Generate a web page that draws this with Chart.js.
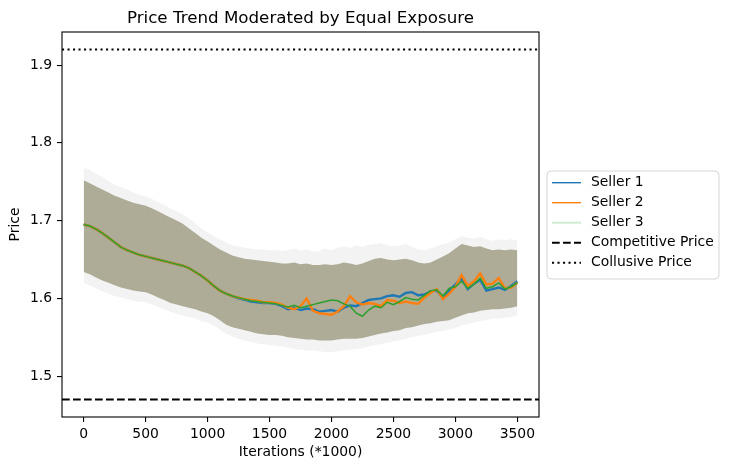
<!DOCTYPE html>
<html>
<head>
<meta charset="utf-8">
<script src="https://cdn.jsdelivr.net/npm/chart.js@4"></script>
<style>
  html, body { margin: 0; padding: 0; background: #fff; }
  #wrap { width: 729px; height: 470px; }
</style>
</head>
<body>
<div id="wrap"><canvas id="priceChart" width="729" height="470"></canvas></div>
<script>
// iterations (*1000), sampled every 50
const iterations = [0,50,100,150,200,250,300,350,400,450,500,550,600,650,700,750,800,850,900,950,
  1000,1050,1100,1150,1200,1250,1300,1350,1400,1450,1500,1550,1600,1650,1700,1750,1800,1850,1900,1950,
  2000,2050,2100,2150,2200,2250,2300,2350,2400,2450,2500,2550,2600,2650,2700,2750,2800,2850,2900,2950,
  3000,3050,3100,3150,3200,3250,3300,3350,3400,3450,3500];

// mean price per seller
const seller1 = [1.695,1.693,1.689,1.684,1.678,1.672,1.666,1.662,1.659,1.656,
  1.654,1.652,1.650,1.648,1.646,1.644,1.642,1.639,1.634,1.629,
  1.623,1.616,1.610,1.606,1.603,1.600,1.598,1.596,1.595,1.594,1.594,
  1.593,1.590,1.586,1.588,1.585,1.587,1.586,1.583,1.584,1.585,
  1.583,1.588,1.591,1.590,1.594,1.598,1.599,1.600,1.603,1.604,
  1.602,1.607,1.608,1.604,1.605,1.609,1.610,1.601,1.610,1.618,
  1.626,1.612,1.619,1.624,1.610,1.612,1.614,1.611,1.616,1.622];
const seller2 = [1.695,1.693,1.689,1.684,1.678,1.672,1.666,1.662,1.659,1.656,
  1.654,1.652,1.650,1.648,1.646,1.644,1.642,1.639,1.634,1.629,
  1.623,1.616,1.610,1.606,1.603,1.601,1.599,1.598,1.597,1.595,1.595,
  1.594,1.592,1.588,1.586,1.590,1.600,1.584,1.581,1.580,1.579,
  1.583,1.590,1.603,1.595,1.592,1.594,1.593,1.590,1.598,1.597,
  1.594,1.596,1.594,1.593,1.601,1.607,1.612,1.599,1.606,1.615,
  1.630,1.616,1.622,1.632,1.618,1.619,1.626,1.613,1.614,1.620];
const seller3 = [1.695,1.693,1.689,1.684,1.678,1.672,1.666,1.662,1.659,1.656,
  1.654,1.652,1.650,1.648,1.646,1.644,1.642,1.639,1.634,1.629,
  1.623,1.616,1.610,1.606,1.603,1.601,1.599,1.597,1.596,1.595,1.594,
  1.593,1.591,1.589,1.591,1.588,1.590,1.592,1.594,1.596,1.598,
  1.597,1.593,1.590,1.581,1.577,1.585,1.590,1.588,1.595,1.592,
  1.596,1.601,1.599,1.598,1.604,1.610,1.611,1.603,1.613,1.615,
  1.622,1.613,1.618,1.626,1.613,1.615,1.620,1.612,1.615,1.620];

// spread band (where all three std bands overlap)
const bandUpper = [1.752,1.748,1.744,1.740,1.736,1.732,1.729,1.726,1.723,1.721,
  1.719,1.716,1.712,1.708,1.704,1.700,1.696,1.690,1.684,1.678,
  1.673,1.668,1.663,1.659,1.655,1.653,1.651,1.650,1.649,1.648,1.647,
  1.646,1.645,1.645,1.646,1.644,1.645,1.643,1.643,1.644,1.643,
  1.644,1.646,1.645,1.643,1.645,1.648,1.651,1.652,1.650,1.649,
  1.650,1.651,1.649,1.646,1.645,1.646,1.650,1.654,1.658,1.664,
  1.670,1.668,1.666,1.667,1.664,1.662,1.663,1.662,1.663,1.662];
const bandLower = [1.634,1.631,1.627,1.623,1.620,1.617,1.614,1.612,1.610,1.609,
  1.608,1.605,1.601,1.598,1.594,1.592,1.590,1.588,1.586,1.583,
  1.581,1.577,1.572,1.566,1.563,1.561,1.559,1.557,1.555,1.554,1.553,
  1.553,1.552,1.550,1.549,1.548,1.547,1.547,1.546,1.546,1.546,
  1.547,1.548,1.548,1.548,1.549,1.551,1.553,1.555,1.556,1.558,
  1.559,1.562,1.563,1.565,1.567,1.568,1.570,1.571,1.572,1.575,
  1.578,1.581,1.582,1.584,1.585,1.586,1.586,1.587,1.588,1.590];
// faint outer edge of the bands
const fringeUpper = [1.768,1.765,1.760,1.756,1.751,1.746,1.743,1.740,1.736,1.733,
  1.731,1.728,1.724,1.720,1.716,1.712,1.708,1.703,1.697,1.690,
  1.685,1.680,1.676,1.672,1.668,1.667,1.665,1.664,1.663,1.663,1.662,
  1.662,1.661,1.662,1.664,1.661,1.663,1.660,1.661,1.664,1.662,
  1.665,1.667,1.665,1.668,1.666,1.669,1.670,1.671,1.668,1.667,
  1.668,1.670,1.666,1.663,1.662,1.664,1.667,1.670,1.672,1.676,
  1.680,1.678,1.677,1.679,1.676,1.674,1.676,1.675,1.676,1.674];
const fringeLower = [1.620,1.617,1.613,1.609,1.606,1.603,1.601,1.599,1.597,1.596,
  1.595,1.592,1.589,1.586,1.583,1.580,1.578,1.576,1.574,1.571,
  1.569,1.565,1.560,1.555,1.551,1.548,1.546,1.544,1.542,1.541,1.540,
  1.539,1.538,1.537,1.535,1.534,1.533,1.533,1.532,1.531,1.531,
  1.532,1.533,1.534,1.535,1.536,1.538,1.540,1.541,1.543,1.545,
  1.546,1.548,1.550,1.552,1.553,1.555,1.557,1.558,1.560,1.562,
  1.565,1.567,1.569,1.571,1.572,1.574,1.574,1.575,1.576,1.578];

const competitivePrice = 1.47;
const collusivePrice = 1.92;

const xTicks = [0, 500, 1000, 1500, 2000, 2500, 3000, 3500];
const yTicks = [1.5, 1.6, 1.7, 1.8, 1.9];
const xRange = [-175, 3675];
const yRange = [1.4475, 1.9425];

const chartTitle = 'Price Trend Moderated by Equal Exposure';
const xTitle = 'Iterations (*1000)';
const yTitle = 'Price';
const legendLabels = ['Seller 1', 'Seller 2', 'Seller 3', 'Competitive Price', 'Collusive Price'];

const FONT = '"DejaVu Sans", sans-serif';
const C_BLUE = '#1f77b4';
const C_ORANGE = '#ff7f0e';
const C_GREEN = '#2ca02c';

const toPoints = (ys) => iterations.map((x, i) => ({ x: x, y: ys[i] }));
const hline = (v) => [{ x: xRange[0], y: v }, { x: xRange[1], y: v }];

// legend samples (line style per entry)
const legendStyles = [
    { color: C_BLUE, width: 1.4, dash: [] },
    { color: C_ORANGE, width: 1.4, dash: [] },
    { color: 'rgba(44,160,44,0.22)', width: 2, dash: [] },
    { color: '#000', width: 2.1, dash: [7.7, 3.3] },
    { color: '#000', width: 2.1, dash: [2.1, 3.4] }
];

// 枠・タイトル・凡例を描く
const decorPlugin = {
    id: 'decor',
    afterDraw(chart) {
        const { ctx, chartArea: a } = chart;
        ctx.save();
        ctx.strokeStyle = '#000';
        ctx.lineWidth = 1.1;
        ctx.setLineDash([]);
        ctx.strokeRect(a.left, a.top, a.right - a.left, a.bottom - a.top);

        ctx.fillStyle = '#000';
        ctx.font = '16.7px ' + FONT;
        ctx.textAlign = 'center';
        ctx.textBaseline = 'alphabetic';
        ctx.fillText(chartTitle, (a.left + a.right) / 2, a.top - 9);

        // legend box
        const bx = 547, by = 171, bw = 172, bh = 108, r = 4;
        ctx.beginPath();
        ctx.moveTo(bx + r, by);
        ctx.arcTo(bx + bw, by, bx + bw, by + bh, r);
        ctx.arcTo(bx + bw, by + bh, bx, by + bh, r);
        ctx.arcTo(bx, by + bh, bx, by, r);
        ctx.arcTo(bx, by, bx + bw, by, r);
        ctx.closePath();
        ctx.fillStyle = 'rgba(255,255,255,0.8)';
        ctx.fill();
        ctx.strokeStyle = '#d6d6d6';
        ctx.lineWidth = 1;
        ctx.stroke();

        ctx.font = '13.9px ' + FONT;
        ctx.textAlign = 'left';
        ctx.textBaseline = 'middle';
        legendLabels.forEach((label, i) => {
            const y = 182.7 + i * 20;
            const s = legendStyles[i];
            ctx.beginPath();
            ctx.strokeStyle = s.color;
            ctx.lineWidth = s.width;
            ctx.setLineDash(s.dash);
            ctx.moveTo(552, y);
            ctx.lineTo(581, y);
            ctx.stroke();
            ctx.setLineDash([]);
            ctx.fillStyle = '#000';
            ctx.fillText(label, 591, y);
        });
        ctx.restore();
    }
};

const ctx = document.getElementById('priceChart').getContext('2d');
new Chart(ctx, {
    type: 'line',
    data: {
        datasets: [
            { data: toPoints(fringeLower), borderColor: 'transparent', borderWidth: 1, pointRadius: 0, fill: false, order: 20 },
            { data: toPoints(fringeUpper), borderColor: 'transparent', borderWidth: 1, pointRadius: 0, fill: 0, backgroundColor: 'rgba(173,178,176,0.16)', order: 19 },
            { data: toPoints(bandLower), borderColor: 'transparent', borderWidth: 1, pointRadius: 0, fill: false, order: 12 },
            { data: toPoints(bandUpper), borderColor: 'transparent', borderWidth: 1, pointRadius: 0, fill: 2, backgroundColor: 'rgb(174,172,151)', order: 11 },
            { data: toPoints(seller1), borderColor: C_BLUE, borderWidth: 2.4, pointRadius: 0, fill: false, order: 5 },
            { data: toPoints(seller2), borderColor: C_ORANGE, borderWidth: 2.4, pointRadius: 0, fill: false, order: 4 },
            { data: toPoints(seller3), borderColor: C_GREEN, borderWidth: 1.5, pointRadius: 0, fill: false, order: 3 },
            { data: hline(competitivePrice), borderColor: '#000', borderWidth: 2.1, borderDash: [7.7, 3.3], pointRadius: 0, fill: false, order: 1 },
            { data: hline(collusivePrice), borderColor: '#000', borderWidth: 2.1, borderDash: [2.1, 3.4], pointRadius: 0, fill: false, order: 1 }
        ]
    },
    options: {
        responsive: false,
        animation: false,
        layout: { padding: { left: 0, top: 32, right: 190, bottom: 0 } },
        plugins: {
            legend: { display: false },
            title: { display: false },
            tooltip: { enabled: false }
        },
        scales: {
            x: {
                type: 'linear',
                min: xRange[0],
                max: xRange[1],
                afterBuildTicks: (scale) => { scale.ticks = xTicks.map(v => ({ value: v })); },
                afterFit: (scale) => { scale.height = 53; },
                grid: { drawOnChartArea: false, drawTicks: true, tickLength: 5, color: '#000', lineWidth: 1.1 },
                border: { display: false },
                ticks: { color: '#000', font: { family: FONT, size: 13.9 }, padding: 4.5, maxRotation: 0, callback: v => String(v) },
                title: { display: true, text: xTitle, color: '#000', font: { family: FONT, size: 13.9 }, padding: { top: 0, bottom: 9.5 } }
            },
            y: {
                type: 'linear',
                min: yRange[0],
                max: yRange[1],
                afterBuildTicks: (scale) => { scale.ticks = yTicks.map(v => ({ value: v })); },
                afterFit: (scale) => { scale.width = 62; },
                grid: { drawOnChartArea: false, drawTicks: true, tickLength: 5, color: '#000', lineWidth: 1.1 },
                border: { display: false },
                ticks: { color: '#000', font: { family: FONT, size: 13.9 }, padding: 5, callback: v => v.toFixed(1) },
                title: { display: true, text: yTitle, color: '#000', font: { family: FONT, size: 13.9 }, padding: { top: 7.5, bottom: 0 } }
            }
        }
    },
    plugins: [decorPlugin]
});
</script>
</body>
</html>
